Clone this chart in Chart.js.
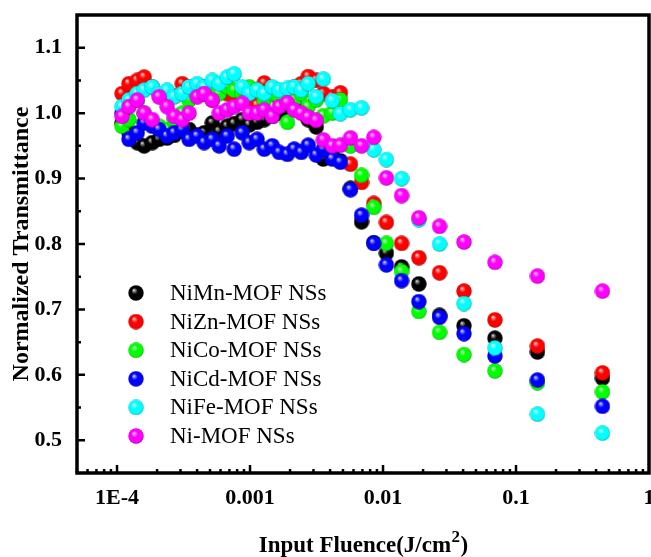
<!DOCTYPE html>
<html>
<head>
<meta charset="utf-8">
<title>Optical limiting of MOF nanosheets</title>
<script src="https://cdn.jsdelivr.net/npm/chart.js@4.4.1/dist/chart.umd.min.js"></script>
<style>
  html, body { margin: 0; padding: 0; background: #fff; }
  canvas { display: block; }
</style>
</head>
<body>
<canvas id="olChart" width="651" height="557"></canvas>
<script>
// input fluence (J/cm2), same steps for every sample
var fluence = [1.09e-4, 1.23e-4, 1.42e-4, 1.60e-4, 1.84e-4, 2.07e-4, 2.38e-4, 2.69e-4, 3.09e-4, 3.48e-4,
  4.01e-4, 4.52e-4, 5.20e-4, 5.86e-4, 6.74e-4, 7.60e-4, 8.74e-4, 9.87e-4, 1.13e-3, 1.28e-3,
  1.47e-3, 1.66e-3, 1.91e-3, 2.15e-3, 2.43e-3, 2.74e-3, 3.15e-3, 3.56e-3, 4.16e-3, 4.78e-3,
  5.69e-3, 6.89e-3, 8.52e-3, 0.0106, 0.0138, 0.0186, 0.0266, 0.0406, 0.0694, 0.145, 0.447];

// normalized transmittance per sample
var niMn = [0.985, 0.970, 0.955, 0.950, 0.955, 0.960, 0.962, 0.966, 0.972, 0.975,
  0.966, 0.970, 0.985, 0.972, 0.980, 0.984, 0.990, 0.982, 0.986, 0.990,
  0.995, 1.000, 1.010, 1.015, 1.002, 0.990, 0.979, 0.930, 0.940, 0.927,
  0.885, 0.834, 0.802, 0.786, 0.765, 0.739, 0.691, 0.675, 0.656, 0.635, 0.595];
var niZn = [1.030, 1.045, 1.050, 1.055, 1.040, 1.030, 1.022, 1.026, 1.045, 1.040,
  1.035, 1.030, 1.020, 1.042, 1.030, 1.025, 1.032, 1.020, 1.012, 1.046,
  1.035, 1.022, 1.030, 1.040, 1.045, 1.056, 1.050, 1.030, 1.025, 1.031,
  0.922, 0.894, 0.862, 0.833, 0.801, 0.779, 0.756, 0.728, 0.684, 0.644, 0.603];
var niCo = [0.980, 0.990, 1.020, 1.000, 0.985, 0.980, 0.975, 0.990, 1.000, 1.020,
  1.035, 1.040, 1.045, 1.030, 1.040, 1.035, 1.030, 1.040, 1.035, 1.020,
  1.030, 1.025, 0.986, 1.020, 1.030, 1.010, 1.020, 0.996, 1.000, 1.020,
  0.950, 0.905, 0.856, 0.801, 0.758, 0.697, 0.665, 0.631, 0.606, 0.588, 0.574];
var niCd = [1.000, 0.960, 0.970, 0.985, 0.980, 0.975, 0.965, 0.970, 0.975, 0.960,
  0.965, 0.955, 0.960, 0.950, 0.965, 0.945, 0.970, 0.955, 0.960, 0.945,
  0.950, 0.940, 0.937, 0.945, 0.940, 0.951, 0.936, 0.945, 0.930, 0.925,
  0.883, 0.844, 0.801, 0.768, 0.744, 0.712, 0.688, 0.663, 0.629, 0.592, 0.552];
var niFe = [1.010, 1.020, 1.030, 1.035, 1.040, 1.030, 1.035, 1.025, 1.030, 1.040,
  1.045, 1.040, 1.050, 1.045, 1.055, 1.060, 1.040, 1.030, 1.035, 1.030,
  1.040, 1.035, 1.038, 1.040, 1.035, 1.045, 1.025, 1.052, 1.019, 0.999,
  1.005, 1.008, 0.944, 0.929, 0.900, 0.837, 0.800, 0.709, 0.641, 0.540, 0.511];
var niOnly = [0.995, 1.010, 1.020, 1.000, 0.990, 1.025, 1.010, 0.995, 0.990, 1.000,
  1.025, 1.030, 1.020, 1.000, 1.005, 1.010, 1.015, 1.000, 1.000, 1.005,
  0.995, 1.010, 1.016, 1.005, 1.000, 0.994, 0.989, 0.959, 0.950, 0.951,
  0.962, 0.950, 0.963, 0.901, 0.874, 0.840, 0.827, 0.803, 0.772, 0.751, 0.728];

var seriesNames = ['NiMn-MOF NSs', 'NiZn-MOF NSs', 'NiCo-MOF NSs', 'NiCd-MOF NSs', 'NiFe-MOF NSs', 'Ni-MOF NSs'];
var seriesValues = [niMn, niZn, niCo, niCd, niFe, niOnly];
var seriesColors = ['#000000', '#ff0000', '#00ff00', '#0000ff', '#00ffff', '#ff00ff'];

var xTicks = [1e-4, 1e-3, 1e-2, 1e-1, 1];
var xTickLabels = ['1E-4', '0.001', '0.01', '0.1', '1'];
var yTicks = [0.5, 0.6, 0.7, 0.8, 0.9, 1.0, 1.1];

var serif = '"Liberation Serif", "Times New Roman", serif';

// little shaded balls used as point markers
function rgbOf(hex) {
  return [parseInt(hex.substr(1, 2), 16), parseInt(hex.substr(3, 2), 16), parseInt(hex.substr(5, 2), 16)];
}
function makeBall(color, size) {
  var c = document.createElement('canvas');
  c.width = size;
  c.height = size;
  var g = c.getContext('2d');
  var r = size / 2;
  var rgb = rgbOf(color);
  var light = rgb.map(function (v) { return Math.round(v + (255 - v) * 0.55); });
  var dark = rgb.map(function (v) { return Math.round(v * 0.55); });
  var grad = g.createRadialGradient(r * 0.72, r * 0.62, 0, r, r, r);
  grad.addColorStop(0, '#ffffff');
  grad.addColorStop(0.14, 'rgb(' + light.join(',') + ')');
  grad.addColorStop(0.4, color);
  grad.addColorStop(0.85, color);
  grad.addColorStop(1, 'rgb(' + dark.join(',') + ')');
  g.fillStyle = grad;
  g.beginPath();
  g.arc(r, r, r - 0.3, 0, Math.PI * 2);
  g.fill();
  return c;
}

var balls = seriesColors.map(function (col) { return makeBall(col, 16); });

var datasets = seriesNames.map(function (name, i) {
  return {
    label: name,
    data: fluence.map(function (f, k) { return { x: f, y: seriesValues[i][k] }; }),
    pointStyle: balls[i],
    pointRadius: 8,
    showLine: false,
    order: seriesNames.length - i
  };
});

// frame, inward ticks, x title with superscript, legend box
var framePlugin = {
  id: 'framePlugin',
  afterDatasetsDraw: function (chart) {
    var ctx = chart.ctx;
    var a = chart.chartArea;
    var xs = chart.scales.x;
    var ys = chart.scales.y;
    ctx.save();
    ctx.strokeStyle = '#000';
    ctx.lineWidth = 2.5;
    ctx.beginPath();
    yTicks.forEach(function (v) {
      var py = ys.getPixelForValue(v);
      ctx.moveTo(a.left, py);
      ctx.lineTo(a.left + 8, py);
      var pm = ys.getPixelForValue(v + 0.05);
      if (v + 0.05 < ys.max - 0.01) {
        ctx.moveTo(a.left, pm);
        ctx.lineTo(a.left + 4, pm);
      }
    });
    for (var d = 1e-5; d < 1; d *= 10) {
      for (var k = 1; k < 10; k++) {
        var v = d * k;
        if (v < xs.min || v > xs.max) continue;
        var px = xs.getPixelForValue(v);
        ctx.moveTo(px, a.bottom);
        ctx.lineTo(px, a.bottom - (k === 1 ? 8 : 4));
      }
    }
    ctx.stroke();
    ctx.lineWidth = 3.5;
    ctx.strokeRect(a.left, a.top, a.right - a.left, a.bottom - a.top);

    // x axis title: Input Fluence(J/cm^2)
    var mainFont = 'bold 23px ' + serif;
    var supFont = 'bold 17px ' + serif;
    ctx.fillStyle = '#000';
    ctx.textBaseline = 'alphabetic';
    ctx.font = mainFont;
    var w1 = ctx.measureText('Input Fluence(J/cm').width;
    var w3 = ctx.measureText(')').width;
    ctx.font = supFont;
    var w2 = ctx.measureText('2').width;
    var tx = (a.left + a.right) / 2 - (w1 + w2 + w3) / 2;
    var base = 552;
    ctx.font = mainFont;
    ctx.fillText('Input Fluence(J/cm', tx, base);
    ctx.font = supFont;
    ctx.fillText('2', tx + w1 + 0.5, base - 10);
    ctx.font = mainFont;
    ctx.fillText(')', tx + w1 + w2 + 1, base);

    // legend
    ctx.font = '23px ' + serif;
    ctx.textBaseline = 'middle';
    chart.data.datasets.forEach(function (ds, i) {
      var cy = 293 + i * 28.6;
      ctx.drawImage(balls[i], 128, cy - 8, 16, 16);
      ctx.fillText(ds.label, 170, cy + 1);
    });
    ctx.restore();
  }
};

var ctx = document.getElementById('olChart').getContext('2d');
var olChart = new Chart(ctx, {
  type: 'scatter',
  data: { datasets: datasets },
  plugins: [framePlugin],
  options: {
    responsive: false,
    animation: false,
    devicePixelRatio: 1,
    layout: { autoPadding: false, padding: { top: 15, right: 2, bottom: 0, left: 0 } },
    plugins: {
      legend: { display: false },
      tooltip: { enabled: false }
    },
    scales: {
      x: {
        type: 'logarithmic',
        min: 5e-5,
        max: 1,
        afterBuildTicks: function (s) { s.ticks = xTicks.map(function (v) { return { value: v }; }); },
        afterFit: function (s) { s.height = 84; s.paddingLeft = 0; s.paddingRight = 0; },
        grid: { display: false, drawTicks: false },
        border: { display: false },
        ticks: {
          autoSkip: false,
          maxRotation: 0,
          padding: 12,
          color: '#000',
          font: { family: serif, size: 22, weight: 'bold' },
          callback: function (v, i) { return xTickLabels[i]; }
        },
        title: { display: false }
      },
      y: {
        min: 0.45,
        max: 1.15,
        afterBuildTicks: function (s) { s.ticks = yTicks.map(function (v) { return { value: v }; }); },
        afterFit: function (s) { s.width = 77; s.paddingTop = 0; s.paddingBottom = 0; },
        grid: { display: false, drawTicks: false },
        border: { display: false },
        ticks: {
          padding: 15,
          color: '#000',
          font: { family: serif, size: 22, weight: 'bold' },
          callback: function (v) { return Number(v).toFixed(1); }
        },
        title: {
          display: true,
          text: 'Normalized Transmittance',
          color: '#000',
          font: { family: serif, size: 24, weight: 'bold', lineHeight: 1 },
          padding: { top: 10, bottom: 0 }
        }
      }
    }
  }
});
</script>
</body>
</html>
